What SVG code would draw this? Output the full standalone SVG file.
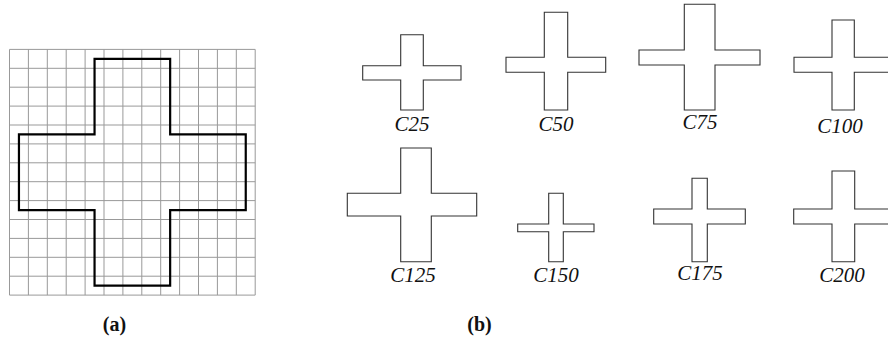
<svg xmlns="http://www.w3.org/2000/svg" width="888" height="342" viewBox="0 0 888 342">
<style>
.grid line{stroke:#999;stroke-width:1}
.big{fill:none;stroke:#000;stroke-width:2.2;stroke-linejoin:miter}
.cr{fill:#fff;stroke:#333;stroke-width:1.1}
.lbl{font-family:"Liberation Serif","DejaVu Serif",serif;font-style:italic;font-size:21px;text-anchor:middle;fill:#111}
.cap{font-family:"Liberation Serif","DejaVu Serif",serif;font-weight:bold;font-size:20px;text-anchor:middle;fill:#111}
</style>
<rect width="888" height="342" fill="#fff"/>
<g id="panel-a">
<g class="grid">
<line x1="9.5" y1="49.4" x2="9.5" y2="295.1"/>
<line x1="28.4" y1="49.4" x2="28.4" y2="295.1"/>
<line x1="47.3" y1="49.4" x2="47.3" y2="295.1"/>
<line x1="66.2" y1="49.4" x2="66.2" y2="295.1"/>
<line x1="85.1" y1="49.4" x2="85.1" y2="295.1"/>
<line x1="104" y1="49.4" x2="104" y2="295.1"/>
<line x1="122.9" y1="49.4" x2="122.9" y2="295.1"/>
<line x1="141.8" y1="49.4" x2="141.8" y2="295.1"/>
<line x1="160.7" y1="49.4" x2="160.7" y2="295.1"/>
<line x1="179.6" y1="49.4" x2="179.6" y2="295.1"/>
<line x1="198.5" y1="49.4" x2="198.5" y2="295.1"/>
<line x1="217.4" y1="49.4" x2="217.4" y2="295.1"/>
<line x1="236.3" y1="49.4" x2="236.3" y2="295.1"/>
<line x1="255.2" y1="49.4" x2="255.2" y2="295.1"/>
<line x1="9.5" y1="49.4" x2="255.2" y2="49.4"/>
<line x1="9.5" y1="68.3" x2="255.2" y2="68.3"/>
<line x1="9.5" y1="87.2" x2="255.2" y2="87.2"/>
<line x1="9.5" y1="106.1" x2="255.2" y2="106.1"/>
<line x1="9.5" y1="125" x2="255.2" y2="125"/>
<line x1="9.5" y1="143.9" x2="255.2" y2="143.9"/>
<line x1="9.5" y1="162.8" x2="255.2" y2="162.8"/>
<line x1="9.5" y1="181.7" x2="255.2" y2="181.7"/>
<line x1="9.5" y1="200.6" x2="255.2" y2="200.6"/>
<line x1="9.5" y1="219.5" x2="255.2" y2="219.5"/>
<line x1="9.5" y1="238.4" x2="255.2" y2="238.4"/>
<line x1="9.5" y1="257.3" x2="255.2" y2="257.3"/>
<line x1="9.5" y1="276.2" x2="255.2" y2="276.2"/>
<line x1="9.5" y1="295.1" x2="255.2" y2="295.1"/>
</g>
<path class="big" d="M94.55 58.85H170.15V134.45H245.75V210.05H170.15V285.65H94.55V210.05H18.95V134.45H94.55Z"/>
<text class="cap" x="114.5" y="331">(a)</text>
</g>
<g id="C25"><path class="cr" d="M400.7 34.7H423.3V65.7H461V80H423.3V110H400.7V80H362.7V65.7H400.7Z"/><text class="lbl" x="412" y="131">C25</text></g>
<g id="C50"><path class="cr" d="M544.3 12.3H567.7V57.3H605.7V72.3H567.7V110H544.3V72.3H506V57.3H544.3Z"/><text class="lbl" x="556" y="131">C50</text></g>
<g id="C75"><path class="cr" d="M684.3 4.3H715V50H760V65H715V110H684.3V65H639V50H684.3Z"/><text class="lbl" x="700" y="129">C75</text></g>
<g id="C100"><path class="cr" d="M832 20H854.3V57.3H892V72.3H854.3V110H832V72.3H794V57.3H832Z"/><text class="lbl" x="840" y="133">C100</text></g>
<g id="C125"><path class="cr" d="M400.7 148H431.3V193.3H476.7V216H431.3V261.7H400.7V216H347.3V193.3H400.7Z"/><text class="lbl" x="413" y="282">C125</text></g>
<g id="C150"><path class="cr" d="M548.7 193.3H563.3V224H594V231.7H563.3V261.7H548.7V231.7H517.7V224H548.7Z"/><text class="lbl" x="556" y="282">C150</text></g>
<g id="C175"><path class="cr" d="M692 178.3H707.3V209H745.3V224H707.3V261.7H692V224H653.7V209H692Z"/><text class="lbl" x="700" y="280">C175</text></g>
<g id="C200"><path class="cr" d="M832 171H854.7V209H892V224H854.7V261.7H832V224H793.7V209H832Z"/><text class="lbl" x="842" y="282">C200</text></g>
<text class="cap" x="479.5" y="331">(b)</text>
</svg>
